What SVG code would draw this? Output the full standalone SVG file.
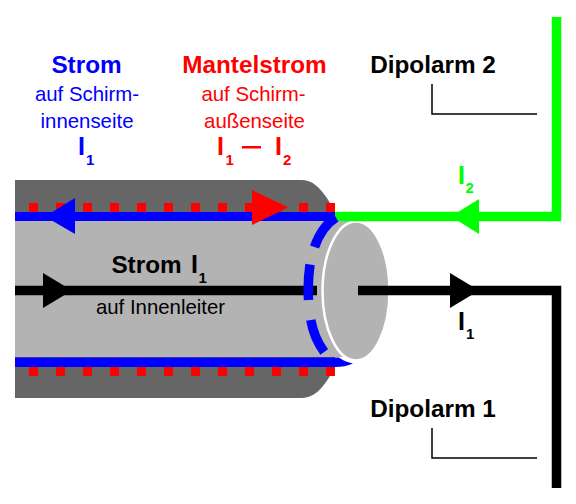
<svg xmlns="http://www.w3.org/2000/svg" width="576" height="504" viewBox="0 0 576 504">
<style>
text{font-family:"Liberation Sans",Arial,sans-serif;text-anchor:middle}
.h{font-size:24.300px;font-weight:bold}
.s{font-size:20.400px}
.i{font-size:25px;font-weight:bold;text-anchor:start}
.u{font-size:15px;font-weight:bold;text-anchor:start}
.thin{fill:none;stroke:#000;stroke-width:1.5}
.thick{fill:none;stroke-width:9.5}
</style>
<defs><rect id="r" width="9" height="9" fill="#f00"/></defs>
<g id="cable">
<path d="M15 180H302C316 180 326 195 335 212V367C326 384 316 398 302 398H15Z" fill="#666"/>
<rect x="15" y="221" width="340" height="136" fill="#b3b3b3"/>
<g id="red-dots">
<use href="#r" x="29" y="203"/><use href="#r" x="56" y="203"/><use href="#r" x="83" y="203"/><use href="#r" x="110" y="203"/><use href="#r" x="137" y="203"/><use href="#r" x="164" y="203"/><use href="#r" x="191" y="203"/><use href="#r" x="218" y="203"/><use href="#r" x="245" y="203"/><use href="#r" x="272" y="203"/><use href="#r" x="299" y="203"/><use href="#r" x="326" y="203"/>
<use href="#r" x="29" y="367"/><use href="#r" x="56" y="367"/><use href="#r" x="83" y="367"/><use href="#r" x="110" y="367"/><use href="#r" x="137" y="367"/><use href="#r" x="164" y="367"/><use href="#r" x="191" y="367"/><use href="#r" x="218" y="367"/><use href="#r" x="245" y="367"/><use href="#r" x="272" y="367"/><use href="#r" x="299" y="367"/><use href="#r" x="326" y="367"/>
</g>
</g>
<ellipse id="cable-end" cx="356" cy="291" rx="33.500" ry="69.500" fill="#b3b3b3" stroke="#fff" stroke-width="2.500"/>
<g id="connectors">
<path class="thick" stroke="#000" d="M15 290.500H317"/>
<path d="M15 212H335V221H15Z" fill="#00f"/>
<path d="M15 357.500H339Q345 362 353 363.500Q345 367 335 367H15Z" fill="#00f"/>
<path class="thick" stroke="#0f0" d="M335 216.500H556.500V17"/>
<path class="thick" stroke="#000" d="M358 290.500H556.500V488"/>
<path fill="none" stroke="#00f" stroke-width="9.500" d="M336 217.500Q322 226 314.500 247M310 264.500Q307.500 282 308.500 300M310.800 320Q314 338 324.200 352"/>
<path d="M45 216.500L75 198V234Z" fill="#00f"/>
<path d="M72 290.500L43 273V308Z" fill="#000"/>
<path d="M288 207.500L252 190V225Z" fill="#f00"/>
<path d="M451 216.500L479 199V234Z" fill="#0f0"/>
<path d="M479 290.500L450 273V308Z" fill="#000"/>
<path class="thin" d="M432 84V114H537"/>
<path class="thin" d="M432 428V458H537"/>
</g>
<g id="label-strom" fill="#00f">
<text class="h" x="86.500" y="73">Strom</text>
<text class="s" x="87" y="101">auf Schirm-</text>
<text class="s" x="87" y="128">innenseite</text>
<text class="i" x="78" y="155">I</text><text class="u" x="86" y="165">1</text>
</g>
<g id="label-mantelstrom" fill="#f00">
<text class="h" x="254.500" y="73">Mantelstrom</text>
<text class="s" x="253.500" y="101">auf Schirm-</text>
<text class="s" x="254.500" y="128">außenseite</text>
<text class="i" x="217" y="155">I</text><text class="u" x="225.500" y="165">1</text>
<rect x="242" y="146" width="19" height="2.500"/>
<text class="i" x="275" y="155">I</text><text class="u" x="283" y="165">2</text>
</g>
<g id="label-dipol2"><text class="h" x="433" y="73">Dipolarm 2</text></g>
<g id="label-dipol1"><text class="h" x="433" y="417">Dipolarm 1</text></g>
<g id="label-i2" fill="#0f0"><text class="i" x="458" y="184">I</text><text class="u" x="465.500" y="193">2</text></g>
<g id="label-i1" fill="#000"><text class="i" x="458" y="330">I</text><text class="u" x="466" y="339">1</text></g>
<g id="label-strom-i1">
<text class="h" x="146.500" y="273">Strom</text><text class="i" x="191" y="273">I</text><text class="u" x="198.500" y="283">1</text>
<text class="s" x="160.500" y="314">auf Innenleiter</text>
</g>
</svg>
